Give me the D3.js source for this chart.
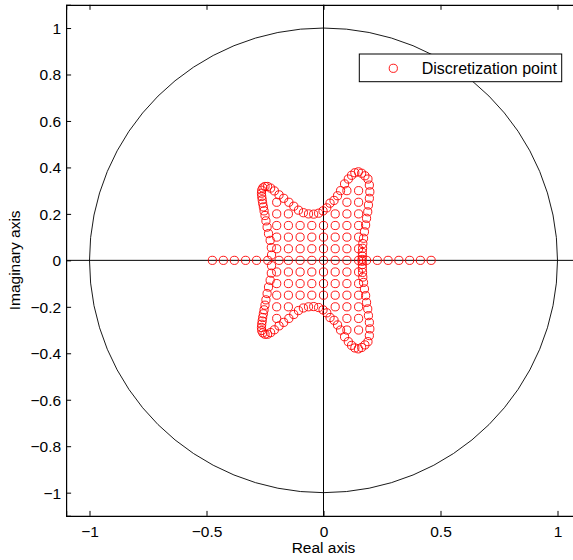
<!DOCTYPE html>
<html>
<head>
<meta charset="utf-8">
<script src="https://cdn.jsdelivr.net/npm/d3@7"></script>
<style>
  html, body { margin: 0; padding: 0; background: #fff; overflow: hidden; }
  svg { display: block; }
  text { font-family: "Liberation Sans", Arial, Helvetica, sans-serif; fill: #000; }
</style>
</head>
<body>
<div id="chart"></div>
<script>
// Tick values and labels
const xTickValues = [-1, -0.5, 0, 0.5, 1];
const xTickLabels = ["\u22121", "\u22120.5", "0", "0.5", "1"];
const yTickValues = [-1, -0.8, -0.6, -0.4, -0.2, 0, 0.2, 0.4, 0.6, 0.8, 1];
const yTickLabels = ["\u22121", "\u22120.8", "\u22120.6", "\u22120.4", "\u22120.2", "0", "0.2", "0.4", "0.6", "0.8", "1"];

// Interior grid points: one row per imaginary part, with the real parts on that row
const gridRowsY = [0.3, 0.25, 0.2, 0.15, 0.1, 0.05, -0.05, -0.1, -0.15, -0.2, -0.25, -0.3];
const gridRowsX = [
  [0.1, 0.15],
  [-0.2, 0.1, 0.15],
  [-0.2, -0.15, 0.05, 0.1, 0.15],
  [-0.2, -0.15, -0.1, -0.05, 0, 0.05, 0.1, 0.15],
  [-0.2, -0.15, -0.1, -0.05, 0, 0.05, 0.1, 0.15],
  [-0.2, -0.15, -0.1, -0.05, 0, 0.05, 0.1, 0.15],
  [-0.2, -0.15, -0.1, -0.05, 0, 0.05, 0.1, 0.15],
  [-0.2, -0.15, -0.1, -0.05, 0, 0.05, 0.1, 0.15],
  [-0.2, -0.15, -0.1, -0.05, 0, 0.05, 0.1, 0.15],
  [-0.2, -0.15, 0.05, 0.1, 0.15],
  [-0.2, 0.1, 0.15],
  [0.1, 0.15]
];

// Points on the real axis
const realAxisX = [-0.475, -0.428, -0.381, -0.333, -0.286, -0.238, -0.19, -0.15, -0.1, -0.05, 0,
                   0.05, 0.1, 0.15, 0.184, 0.23, 0.276, 0.322, 0.368, 0.414, 0.46];

// Boundary points, upper half (real, imaginary)
const boundaryUpper = [
  [-0.222, 0.023], [-0.223, 0.055], [-0.228, 0.086], [-0.235, 0.115], [-0.241, 0.143],
  [-0.246, 0.170], [-0.250, 0.193], [-0.254, 0.213], [-0.257, 0.230], [-0.260, 0.246],
  [-0.262, 0.261], [-0.264, 0.275], [-0.265, 0.289], [-0.264, 0.302], [-0.259, 0.312],
  [-0.250, 0.318], [-0.239, 0.318], [-0.226, 0.311], [-0.210, 0.299], [-0.190, 0.282],
  [-0.170, 0.267], [-0.148, 0.250], [-0.127, 0.233], [-0.107, 0.216], [-0.086, 0.205],
  [-0.064, 0.200], [-0.042, 0.199], [-0.021, 0.203], [-0.002, 0.213], [0.014, 0.226],
  [0.028, 0.246], [0.045, 0.258],
  [0.060, 0.278], [0.073, 0.300], [0.090, 0.329], [0.106, 0.350], [0.120, 0.366],
  [0.134, 0.377], [0.149, 0.381], [0.163, 0.375], [0.177, 0.364], [0.190, 0.350],
  [0.196, 0.324], [0.198, 0.295], [0.196, 0.267], [0.192, 0.238], [0.189, 0.209],
  [0.184, 0.181], [0.180, 0.152], [0.175, 0.123], [0.171, 0.095], [0.168, 0.072],
  [0.167, 0.052], [0.166, 0.034], [0.166, 0.018], [0.165, 0.004]
];

// Boundary points, lower half (real, imaginary)
const boundaryLower = [
  [-0.222, -0.023], [-0.223, -0.055], [-0.228, -0.086], [-0.235, -0.115], [-0.241, -0.143],
  [-0.246, -0.170], [-0.250, -0.193], [-0.254, -0.213], [-0.257, -0.230], [-0.260, -0.246],
  [-0.262, -0.261], [-0.264, -0.275], [-0.265, -0.289], [-0.264, -0.302], [-0.259, -0.312],
  [-0.250, -0.318], [-0.239, -0.318], [-0.226, -0.311], [-0.210, -0.299], [-0.190, -0.282],
  [-0.170, -0.267], [-0.148, -0.250], [-0.127, -0.233], [-0.107, -0.216], [-0.086, -0.205],
  [-0.064, -0.200], [-0.042, -0.199], [-0.021, -0.203], [-0.002, -0.213], [0.014, -0.226],
  [0.028, -0.246], [0.045, -0.258],
  [0.060, -0.278], [0.073, -0.300], [0.090, -0.329], [0.106, -0.350], [0.120, -0.366],
  [0.134, -0.377], [0.149, -0.381], [0.163, -0.375], [0.177, -0.364], [0.190, -0.350],
  [0.196, -0.324], [0.198, -0.295], [0.196, -0.267], [0.192, -0.238], [0.189, -0.209],
  [0.184, -0.181], [0.180, -0.152], [0.175, -0.123], [0.171, -0.095], [0.168, -0.072],
  [0.167, -0.052], [0.166, -0.034], [0.166, -0.018], [0.165, -0.004]
];

const legendLabel = "Discretization point";

// ---------------------------------------------------------------
const W = 573, H = 560;
const plot = { left: 66.1, right: 580.9, top: 4.8, bottom: 515.9 };
const red = "#ff0000";
const markerR = 4.1;

const x = d3.scaleLinear().domain([-1.1, 1.1]).range([plot.left, plot.right]);
const y = d3.scaleLinear().domain([-1.1, 1.1]).range([plot.bottom, plot.top]);

const svg = d3.select("#chart").append("svg")
  .attr("width", W).attr("height", H);

// Unit circle
svg.append("ellipse")
  .attr("cx", x(0)).attr("cy", y(0))
  .attr("rx", x(1) - x(0)).attr("ry", y(0) - y(1))
  .attr("fill", "none").attr("stroke", "#000").attr("stroke-width", 0.9);

// Real and imaginary axis lines through the origin
svg.append("line")
  .attr("x1", x(0)).attr("x2", x(0)).attr("y1", plot.top).attr("y2", plot.bottom)
  .attr("stroke", "#000").attr("stroke-width", 1);
svg.append("line")
  .attr("x1", plot.left).attr("x2", plot.right).attr("y1", y(0)).attr("y2", y(0))
  .attr("stroke", "#000").attr("stroke-width", 1);

// Gather all discretization points
const points = [];
gridRowsY.forEach((yy, i) => gridRowsX[i].forEach(xx => points.push([xx, yy])));
realAxisX.forEach(xx => points.push([xx, 0]));
boundaryUpper.forEach(p => points.push(p));
boundaryLower.forEach(p => points.push(p));

svg.append("g").selectAll("circle").data(points).join("circle")
  .attr("cx", d => x(d[0])).attr("cy", d => y(d[1]))
  .attr("r", markerR)
  .attr("fill", "none").attr("stroke", red).attr("stroke-width", 0.9);

// Axes with inward ticks
const fontSize = 15.5;
const xLabel = d3.scaleOrdinal().domain(xTickValues).range(xTickLabels);
const yLabel = d3.scaleOrdinal().domain(yTickValues).range(yTickLabels);

const axB = svg.append("g").attr("transform", `translate(0,${plot.bottom})`)
  .call(d3.axisBottom(x).tickValues(xTickValues).tickSize(-5).tickPadding(10)
    .tickFormat(d => xLabel(d)));
const axT = svg.append("g").attr("transform", `translate(0,${plot.top})`)
  .call(d3.axisTop(x).tickValues(xTickValues).tickSize(-5).tickFormat(""));
const axL = svg.append("g").attr("transform", `translate(${plot.left},0)`)
  .call(d3.axisLeft(y).tickValues(yTickValues).tickSize(-5).tickPadding(5)
    .tickFormat(d => yLabel(d)));
const axR = svg.append("g").attr("transform", `translate(${plot.right},0)`)
  .call(d3.axisRight(y).tickValues(yTickValues).tickSize(-5).tickFormat(""));

[axB, axT, axL, axR].forEach(a => {
  a.selectAll(".domain").attr("stroke", "#000").attr("stroke-width", 1.2);
  a.selectAll(".tick line").attr("stroke", "#000").attr("stroke-width", 1);
  a.selectAll("text").attr("font-size", fontSize).attr("fill", "#000")
    .style("font-family", "'Liberation Sans', Arial, sans-serif");
});
axL.selectAll("text").attr("dy", "0.35em");

// Axis titles
svg.append("text")
  .attr("x", x(0)).attr("y", 553)
  .attr("text-anchor", "middle").attr("font-size", fontSize)
  .text("Real axis");
svg.append("text")
  .attr("transform", `translate(20,${y(0)}) rotate(-90)`)
  .attr("text-anchor", "middle").attr("font-size", fontSize)
  .text("Imaginary axis");

// Legend
const lg = svg.append("g");
lg.append("rect")
  .attr("x", 359.3).attr("y", 54).attr("width", 202.4).attr("height", 27.7)
  .attr("fill", "#fff").attr("stroke", "#000").attr("stroke-width", 1);
lg.append("circle")
  .attr("cx", 393.3).attr("cy", 68.3).attr("r", markerR)
  .attr("fill", "none").attr("stroke", red).attr("stroke-width", 0.9);
lg.append("text")
  .attr("x", 421.7).attr("y", 74)
  .attr("font-size", 16)
  .text(legendLabel);
</script>
</body>
</html>
